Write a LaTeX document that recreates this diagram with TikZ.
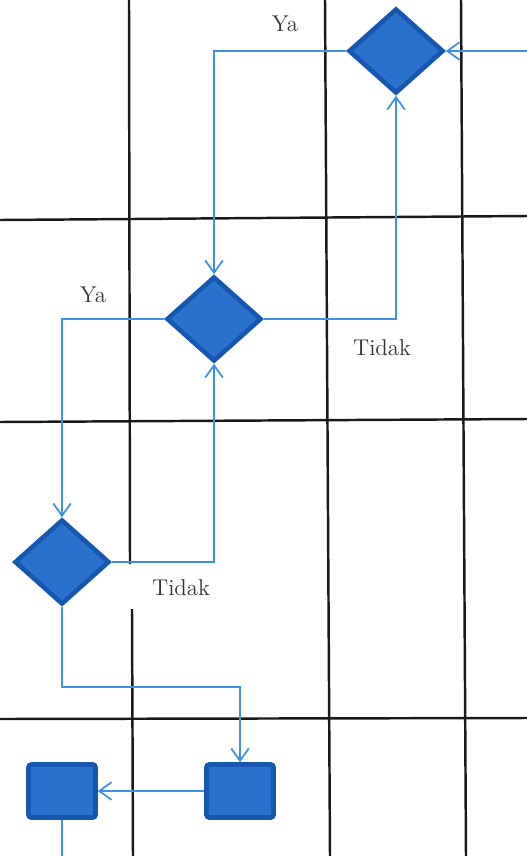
\documentclass[tikz,border=0pt]{standalone}
\usepackage{tikz}
\usetikzlibrary{arrows.meta, positioning, shapes.geometric}

\definecolor{boxfill}{RGB}{43,113,206}
\definecolor{boxedge}{RGB}{22,88,176}
\definecolor{flow}{RGB}{62,145,228}

\begin{document}
\begin{tikzpicture}[
    x=0.02cm, y=-0.02cm,
    decision/.style={draw=boxedge, fill=boxfill, diamond, line width=2.6pt,
                     minimum width=1.9cm, minimum height=1.7cm, inner sep=0pt},
    task/.style={draw=boxedge, fill=boxfill, rectangle, rounded corners=1.5pt,
                 line width=2.6pt, minimum width=1.34cm, minimum height=1.06cm, inner sep=0pt},
    grid/.style={line width=1.4pt, black!90},
    arr/.style={-{Straight Barb[length=7pt, width=10pt]}, flow, line width=1pt},
    flowline/.style={flow, line width=1pt},
    lbl/.style={font=\fontsize{13}{15}\selectfont, text=black!80, inner sep=1pt}
]
\useasboundingbox (0,0) rectangle (527,856);

% Swimlane grid
\draw[grid] (129,0) -- (130,564);
\draw[grid] (132,609) -- (133,856);
\draw[grid] (325,0) -- (330,856);
\draw[grid] (461,0) -- (466,856);
\draw[grid] (0,220) -- (527,216);
\draw[grid] (0,422) -- (527,419);
\draw[grid] (0,719) -- (527,718);

% Decisions
\node[decision] (d1) at (396, 51)  {};
\node[decision] (d2) at (214, 319) {};
\node[decision] (d3) at (62,  562) {};

% Tasks
\node[task] (s2) at (240, 791) {};
\node[task] (s1) at (62,  791) {};

% Free ends
\coordinate (entry) at (527, 51);
\coordinate (exit)  at (62, 856);

% Labels
\node[lbl] (ya1)    at (285, 24)  {Ya};
\node[lbl] (tidak1) at (382, 348) {Tidak};
\node[lbl] (ya2)    at (93,  295) {Ya};
\node[lbl] (tidak2) at (181, 588) {Tidak};

% Connectors
\draw[arr] (entry) -- (d1.east);
\draw[arr] (d1.west) -| (d2.north);
\draw[arr] (d2.east) -| (d1.south);
\draw[arr] (d2.west) -| (d3.north);
\draw[arr] (d3.east) -| (d2.south);
\draw[arr] (d3.south) -- ++(0,80) -| (s2.north);
\draw[arr] (s2.west) -- (s1.east);
\draw[flowline] (s1.south) -- (exit);

\end{tikzpicture}
\end{document}
